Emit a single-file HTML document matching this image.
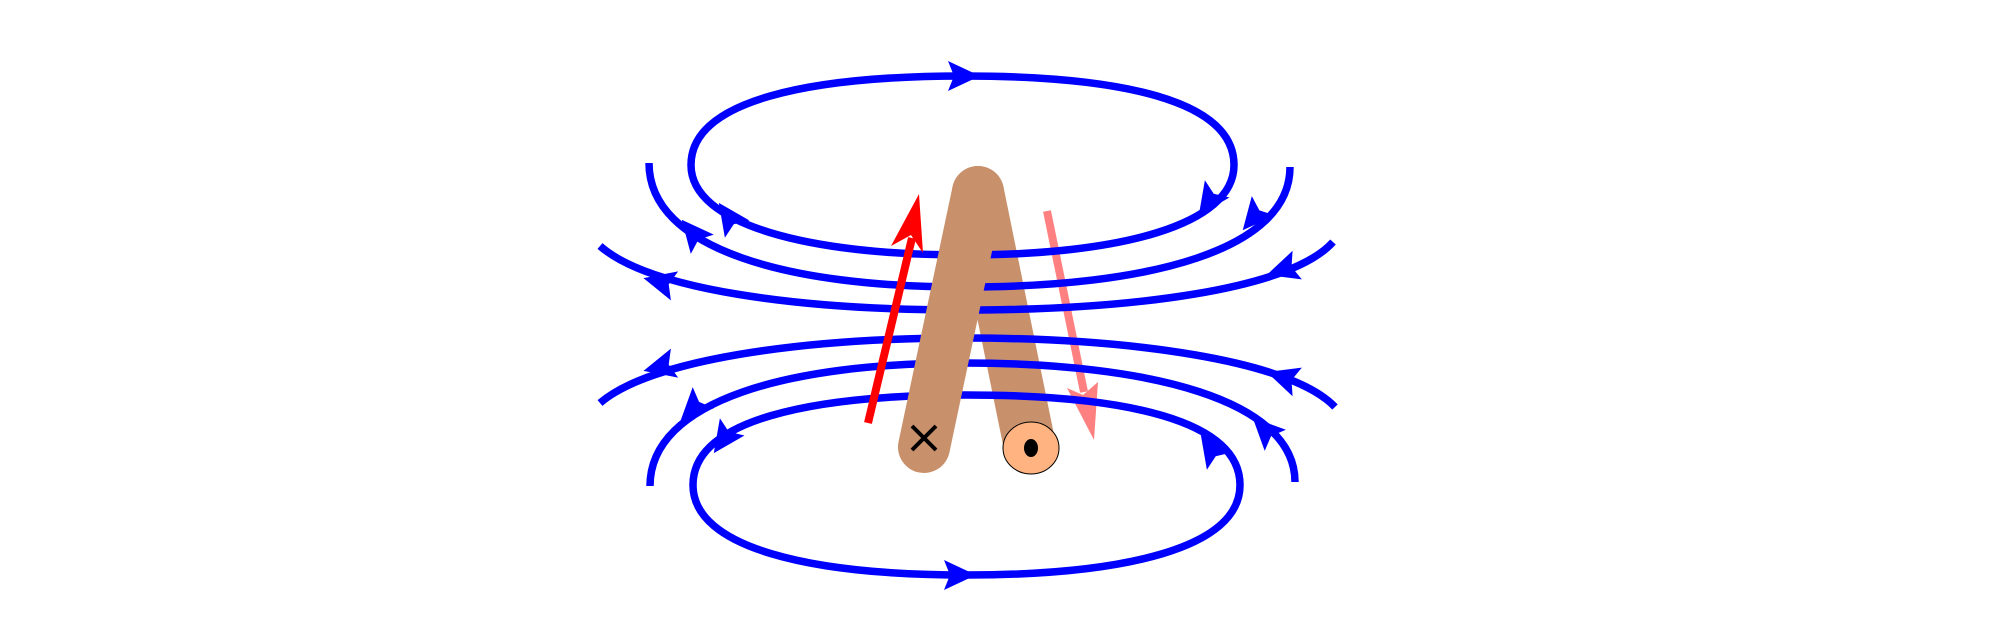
<!DOCTYPE html>
<html><head><style>html,body{margin:0;padding:0;background:#fff}svg{display:block}</style></head>
<body>
<svg width="2000" height="628" viewBox="0 0 2000 628" xmlns="http://www.w3.org/2000/svg">
<defs>
<polygon id="ah" points="16,0 -16,-15 -10,0 -16,15" fill="#0000ff"/>
</defs>
<!-- right (back) leg -->
<line x1="978" y1="192" x2="1030" y2="447" stroke="#c8916b" stroke-width="52" stroke-linecap="round"/>
<!-- pink arrow -->
<line x1="1047" y1="211" x2="1084" y2="392" stroke="#ff8080" stroke-width="8"/>
<polygon points="1094,440 1067,388 1083,395 1098,382" fill="#ff8080"/>
<g fill="none" stroke="#0000ff" stroke-width="7.5">
<path d="M691,165 C691,100 810,76 964,76 C1120,76 1234,100 1234,165 C1234,225 1120,255 964,255 C810,255 691,225 691,165 Z"/>
<path d="M649,163 C649,250 790,287 964,287 C1150,287 1290,250 1290,167"/>
<path d="M600,246 C650,290 800,310 964,310 C1130,310 1290,290 1333,242"/>
<path d="M600,403 C650,360 800,338 964,338 C1130,338 1290,360 1335,407"/>
<path d="M650,486 C650,400 790,363 964,363 C1150,363 1295,400 1295,482"/>
<path d="M693,485 C693,420 810,395 966,395 C1125,395 1240,420 1240,485 C1240,548 1125,575 966,575 C810,575 693,548 693,485 Z"/>
</g>
<use href="#ah" transform="translate(964,76) rotate(0)"/>
<use href="#ah" transform="translate(728,216) rotate(-125)"/>
<use href="#ah" transform="translate(1208,202) rotate(125)"/>
<use href="#ah" transform="translate(692,232) rotate(-130)"/>
<use href="#ah" transform="translate(1253,218) rotate(130)"/>
<use href="#ah" transform="translate(659,282) rotate(-166)"/>
<use href="#ah" transform="translate(1282,270) rotate(162)"/>
<use href="#ah" transform="translate(659,367) rotate(166)"/>
<use href="#ah" transform="translate(1282,377) rotate(-162)"/>
<use href="#ah" transform="translate(692,409) rotate(135)"/>
<use href="#ah" transform="translate(1264,429) rotate(-135)"/>
<use href="#ah" transform="translate(723,440) rotate(125)"/>
<use href="#ah" transform="translate(1210,448) rotate(-125)"/>
<use href="#ah" transform="translate(960,575) rotate(0)"/>
<!-- left (front) leg -->
<line x1="978" y1="192" x2="924" y2="447" stroke="#c8916b" stroke-width="52" stroke-linecap="round"/>
<!-- ring -->
<ellipse cx="1031" cy="448" rx="28" ry="26" fill="#ffb380" stroke="#000" stroke-width="1"/>
<ellipse cx="1031" cy="448" rx="7" ry="9" fill="#000"/>
<!-- X -->
<g stroke="#000" stroke-width="4"><line x1="912" y1="426" x2="936" y2="450"/><line x1="936" y1="426" x2="912" y2="450"/></g>
<!-- red arrow -->
<line x1="868" y1="423" x2="912" y2="238" stroke="#ff0000" stroke-width="8"/>
<polygon points="919,194 891,246 911,235 923,253" fill="#ff0000"/>
</svg>
</body></html>
